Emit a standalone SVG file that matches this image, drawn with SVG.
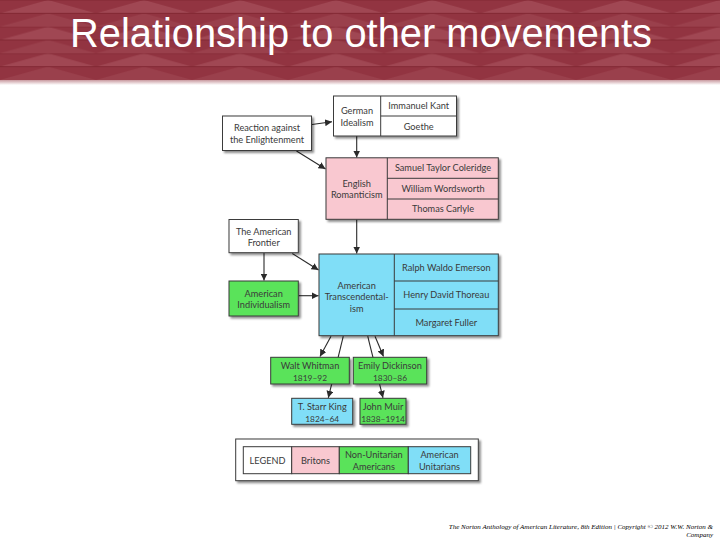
<svg xmlns="http://www.w3.org/2000/svg" width="720" height="540" viewBox="0 0 720 540">
<defs>
<style>
.box{stroke:#3a3a3a;stroke-width:1;filter:url(#sh)}
.cell{fill:none;stroke:#3a3a3a;stroke-width:1}
.w{fill:#ffffff}.p{fill:#f9c8d0}.g{fill:#5ae35a}.c{fill:#80def7}
.t{font-family:Lato,"Noto Sans","DejaVu Sans",sans-serif;font-size:9.2px;fill:#3a3a3a;text-anchor:middle}
.y{font-size:8.4px}
.con{stroke:#2a2a2a;stroke-width:1.1;fill:none;marker-end:url(#ah)}
.title{font-family:"Liberation Sans",Arial,sans-serif;font-size:40px;fill:#fff}
.foot{font-family:"Liberation Serif","Times New Roman",serif;font-style:italic;font-size:7px;fill:#000;text-anchor:end}
</style>
<filter id="sh" x="-10%" y="-10%" width="130%" height="140%">
<feDropShadow dx="2" dy="2" stdDeviation="0.8" flood-color="#000" flood-opacity="0.45"/>
</filter>
<marker id="ah" viewBox="0 0 10 10" refX="10" refY="5" markerWidth="7" markerHeight="7" orient="auto" markerUnits="userSpaceOnUse">
<path d="M0,0 L10,5 L0,10 z" fill="#2a2a2a"/>
</marker>
<pattern id="hdr" patternUnits="userSpaceOnUse" width="96" height="26.67">
<rect width="96" height="26.67" fill="#923441"/>
<polygon points="0,13.33 48,0 96,13.33" fill="#b5636d" opacity="0.4"/>
<polygon points="48,13.33 96,26.67 0,26.67" fill="#b5636d" opacity="0.25"/>
<polygon points="-48,13.33 0,26.67 -96,26.67" fill="#b5636d" opacity="0.25"/>
<line x1="0" y1="13.33" x2="96" y2="13.33" stroke="#822833" stroke-width="1"/>
<line x1="0" y1="0" x2="96" y2="0" stroke="#822833" stroke-width="1"/>
</pattern>
<linearGradient id="fade" x1="0" y1="0" x2="0" y2="1">
<stop offset="0" stop-color="#c99aa0"/>
<stop offset="1" stop-color="#ffffff"/>
</linearGradient>
</defs>
<rect width="720" height="540" fill="#ffffff"/>
<g id="header">
<rect x="0" y="0" width="720" height="80" fill="url(#hdr)"/>
<rect x="0" y="80" width="720" height="5" fill="url(#fade)"/>
<text class="title" x="70" y="47" textLength="582" lengthAdjust="spacingAndGlyphs">Relationship to other movements</text>
</g>
<g id="connectors">
<line class="con" x1="312" y1="124.5" x2="332" y2="121.8"/>
<line class="con" x1="356.7" y1="136" x2="356.7" y2="157.5"/>
<line class="con" x1="296.5" y1="151" x2="325.5" y2="169"/>
<line class="con" x1="356.7" y1="219.5" x2="356.7" y2="253.5"/>
<line class="con" x1="264" y1="253" x2="264" y2="280.5"/>
<line class="con" x1="292.3" y1="253.5" x2="318.5" y2="270"/>
<line class="con" x1="298.5" y1="295.7" x2="318.5" y2="295.7"/>
<line class="con" x1="331" y1="336.2" x2="320" y2="356.5"/>
<line class="con" x1="343.3" y1="336.2" x2="328.3" y2="397.8"/>
<line class="con" x1="367.7" y1="336.2" x2="383" y2="397.8"/>
<line class="con" x1="375" y1="336.2" x2="383.5" y2="356.5"/>
</g>
<g id="reaction">
<rect class="box w" x="222.5" y="116" width="89" height="34.5"/>
<text class="t" x="267" y="131">Reaction against</text>
<text class="t" x="267" y="142.5">the Enlightenment</text>
</g>
<g id="german-idealism">
<rect class="box w" x="333.5" y="96" width="123" height="40"/>
<line class="cell" x1="380.7" y1="96" x2="380.7" y2="136"/>
<line class="cell" x1="380.7" y1="116" x2="456.5" y2="116"/>
<text class="t" x="357" y="114">German</text>
<text class="t" x="357" y="125.5">Idealism</text>
<text class="t" x="418.7" y="109">Immanuel Kant</text>
<text class="t" x="418.7" y="129.5">Goethe</text>
</g>
<g id="english-romanticism">
<rect class="box p" x="326" y="157.8" width="172.3" height="61.5"/>
<line class="cell" x1="387.3" y1="157.8" x2="387.3" y2="219.3"/>
<line class="cell" x1="387.3" y1="178.3" x2="498.3" y2="178.3"/>
<line class="cell" x1="387.3" y1="199" x2="498.3" y2="199"/>
<text class="t" x="356.7" y="186.5">English</text>
<text class="t" x="356.7" y="198">Romanticism</text>
<text class="t" x="443" y="171.3">Samuel Taylor Coleridge</text>
<text class="t" x="443" y="191.8">William Wordsworth</text>
<text class="t" x="443" y="212.3">Thomas Carlyle</text>
</g>
<g id="american-frontier">
<rect class="box w" x="229" y="219.5" width="69.3" height="33.2"/>
<text class="t" x="263.7" y="234.5">The American</text>
<text class="t" x="263.7" y="246">Frontier</text>
</g>
<g id="american-individualism">
<rect class="box g" x="229" y="281" width="69.3" height="35"/>
<text class="t" x="263.7" y="296.5">American</text>
<text class="t" x="263.7" y="308">Individualism</text>
</g>
<g id="american-transcendentalism">
<rect class="box c" x="319" y="254" width="179.3" height="81.7"/>
<line class="cell" x1="394.3" y1="254" x2="394.3" y2="335.7"/>
<line class="cell" x1="394.3" y1="281" x2="498.3" y2="281"/>
<line class="cell" x1="394.3" y1="309" x2="498.3" y2="309"/>
<text class="t" x="356.7" y="288.5">American</text>
<text class="t" x="356.7" y="300">Transcendental-</text>
<text class="t" x="356.7" y="311.5">ism</text>
<text class="t" x="446.3" y="270.8">Ralph Waldo Emerson</text>
<text class="t" x="446.3" y="298.3">Henry David Thoreau</text>
<text class="t" x="446.3" y="325.8">Margaret Fuller</text>
</g>
<g id="walt-whitman">
<rect class="box g" x="270.7" y="357.3" width="78.6" height="26.7"/>
<text class="t" x="310" y="369">Walt Whitman</text>
<text class="t y" x="310" y="380.5">1819–92</text>
</g>
<g id="emily-dickinson">
<rect class="box g" x="353.3" y="357.3" width="73.4" height="26.7"/>
<text class="t" x="390" y="369">Emily Dickinson</text>
<text class="t y" x="390" y="380.5">1830–86</text>
</g>
<g id="t-starr-king">
<rect class="box c" x="291.7" y="398.3" width="61" height="26"/>
<text class="t" x="322.2" y="410">T. Starr King</text>
<text class="t y" x="322.2" y="421.5">1824–64</text>
</g>
<g id="john-muir">
<rect class="box g" x="360" y="398.3" width="46" height="26"/>
<text class="t" x="383" y="410">John Muir</text>
<text class="t y" x="383" y="421.5">1838–1914</text>
</g>
<g id="legend">
<rect class="box w" x="235.7" y="439" width="242.6" height="41.7"/>
<rect x="243.3" y="446.7" width="48.4" height="27" fill="#ffffff" stroke="#3a3a3a"/>
<rect x="291.7" y="446.7" width="47.6" height="27" fill="#f9c8d0" stroke="#3a3a3a"/>
<rect x="339.3" y="446.7" width="69" height="27" fill="#5ae35a" stroke="#3a3a3a"/>
<rect x="408.3" y="446.7" width="62.4" height="27" fill="#80def7" stroke="#3a3a3a"/>
<text class="t" x="267.5" y="463.5">LEGEND</text>
<text class="t" x="315.5" y="463.5">Britons</text>
<text class="t" x="373.8" y="458">Non-Unitarian</text>
<text class="t" x="373.8" y="469.5">Americans</text>
<text class="t" x="439.5" y="458">American</text>
<text class="t" x="439.5" y="469.5">Unitarians</text>
</g>
<g id="footer">
<text class="foot" x="713" y="529">The Norton Anthology of American Literature, 8th Edition | Copyright © 2012  W.W. Norton &amp;</text>
<text class="foot" x="713" y="536.5">Company</text>
</g>
</svg>
